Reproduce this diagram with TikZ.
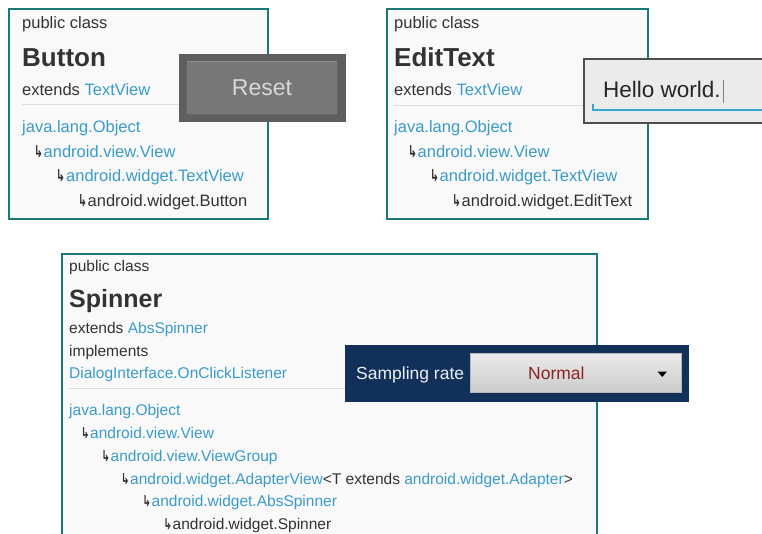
\documentclass[tikz,border=0pt]{standalone}
\usepackage{graphicx}
\usepackage{fontspec}
\setmainfont{Liberation Sans}
\newfontfamily\arrowfont{DejaVu Sans}
\definecolor{frameteal}{HTML}{1A7876}
\definecolor{panelbg}{HTML}{F9F9F9}
\definecolor{ink}{HTML}{333333}
\definecolor{linkblue}{HTML}{3A9BCB}
\definecolor{rule}{HTML}{DCDCDC}
\definecolor{resetdark}{HTML}{5F5F5F}
\definecolor{resetbtn}{HTML}{777777}
\definecolor{resettext}{HTML}{D8D8D8}
\definecolor{editbg}{HTML}{EBEBEB}
\definecolor{editframe}{HTML}{4E4E4E}
\definecolor{holoblue}{HTML}{35A9D0}
\definecolor{navy}{HTML}{11315A}
\definecolor{spinred}{HTML}{8B2323}
% hook arrow in front of each inherited class: box width, glyph width, glyph height
\newcommand\hk[3]{\makebox[#1][l]{\hspace{-1pt}\textcolor{ink}{\resizebox{#2}{#3}{\arrowfont\bfseries ↳}}}}
\newcommand\lnk[1]{\textcolor{linkblue}{#1}}
\begin{document}
\begin{tikzpicture}[x=1pt,y=-1pt,
  panel/.style={draw=frameteal, line width=2pt, fill=panelbg, anchor=north west, inner sep=0pt},
  txt/.style={anchor=base west, inner sep=0pt, text=ink, font=\fontsize{16.5}{18}\selectfont},
  stxt/.style={txt, font=\fontsize{15.5}{17}\selectfont},
  title/.style={txt, font=\bfseries\fontsize{26}{28}\selectfont},
  stitle/.style={txt, font=\bfseries\fontsize{25}{27}\selectfont},
  sep/.style={draw=rule, line width=1pt}]
\clip (0,0) rectangle (762,533);
\fill[white] (0,0) rectangle (762,533);

% ---------- Button ----------
\node[panel, minimum width=258.4pt, minimum height=210.3pt] (bpanel) at (8.3,7.7) {};
\node[txt] (bpub) at (22,28.5) {public class};
\node[title] (bname) at (22,66.5) {Button};
\node[txt] (bext) at (22,95) {extends \lnk{TextView}};
\draw[sep] (22,104.5) -- (253,104.5);
\node[txt, text=linkblue] (bobj) at (22,132.5) {java.lang.Object};
\node[txt] (bview) at (35,157) {\hk{8.5pt}{9pt}{12pt}\lnk{android.view.View}};
\node[txt] (btv) at (57,181.5) {\hk{9pt}{9pt}{12pt}\lnk{android.widget.TextView}};
\node[txt] (bbtn) at (79,206.5) {\hk{8.5pt}{9pt}{12pt}android.widget.Button};

% Reset button sample
\node[fill=resetdark, anchor=north west, minimum width=167pt, minimum height=68pt, inner sep=0pt] (rpanel) at (179,54) {};
\node[fill=resetbtn, draw=resetdark!85!black, line width=0.6pt, rounded corners=1.5pt,
      minimum width=152pt, minimum height=54pt, inner sep=0pt,
      text=resettext, font=\fontsize{23}{25}\selectfont] (rbtn) at (262,88) {Reset};
\draw[resetbtn!80!white, line width=0.8pt] ([xshift=1pt,yshift=-0.6pt]rbtn.north west) -- ([xshift=-1pt,yshift=-0.6pt]rbtn.north east);

% ---------- EditText ----------
\node[panel, minimum width=261pt, minimum height=210.3pt] (epanel) at (386,7.7) {};
\node[txt] (epub) at (394,28.5) {public class};
\node[title] (ename) at (394,66.5) {EditText};
\node[txt] (eext) at (394,95) {extends \lnk{TextView}};
\draw[sep] (394,105) -- (633,105);
\node[txt, text=linkblue] (eobj) at (394,132.5) {java.lang.Object};
\node[txt] (eview) at (409,157.5) {\hk{8.5pt}{9pt}{12pt}\lnk{android.view.View}};
\node[txt] (etv) at (431,181.5) {\hk{8.5pt}{9pt}{12pt}\lnk{android.widget.TextView}};
\node[txt] (eet) at (453,206.5) {\hk{8.5pt}{9pt}{12pt}android.widget.EditText};

% text field sample
\node[fill=editbg, draw=editframe, line width=1.5pt, anchor=north west,
      minimum width=200pt, minimum height=64pt, inner sep=0pt] (efield) at (583,58) {};
\node[anchor=base west, inner sep=0pt, text=black!85, font=\fontsize{22.5}{24}\selectfont] (ehello) at (603,97.3) {Hello world.};
\draw[gray, line width=1pt] (723.5,80) -- (723.5,103);
\draw[holoblue, line width=2pt] (593,104) -- (593,110) -- (770,110);

% ---------- Spinner ----------
\node[panel, minimum width=535pt, minimum height=300pt] (spanel) at (61,253) {};
\node[stxt] (spub) at (69,271.5) {public class};
\node[stitle] (sname) at (69,307) {Spinner};
\node[stxt] (sext) at (69,333.3) {extends \lnk{AbsSpinner}};
\node[stxt] (simpl) at (69,356) {implements};
\node[stxt, text=linkblue] (sdlg) at (69,378.3) {DialogInterface.OnClickListener};
\draw[sep] (69,388) -- (583,388);
\node[stxt, text=linkblue] (sobj) at (69,415) {java.lang.Object};
\node[stxt] (sview) at (82,438.3) {\hk{8pt}{8.5pt}{11pt}\lnk{android.view.View}};
\node[stxt] (sgrp) at (102.5,461) {\hk{8pt}{8.5pt}{11pt}\lnk{android.view.ViewGroup}};
\node[stxt] (sadv) at (122,484.3) {\hk{8pt}{8.5pt}{11pt}\lnk{android.widget.AdapterView}<T extends \lnk{android.widget.Adapter}>};
\node[stxt] (sabs) at (143.5,506.7) {\hk{8pt}{8.5pt}{11pt}\lnk{android.widget.AbsSpinner}};
\node[stxt] (sspin) at (164.5,529.3) {\hk{8pt}{8.5pt}{11pt}android.widget.Spinner};

% spinner sample
\node[fill=navy, anchor=north west, minimum width=344pt, minimum height=57pt, inner sep=0pt] (spbar) at (345,345) {};
\node[anchor=base west, inner sep=0pt, text=white!92!navy, font=\fontsize{17.5}{19}\selectfont] (srate) at (356,379.5) {Sampling rate};
\shade[top color=black!8, bottom color=black!20, draw=black!28, line width=0.5pt] (470,353) rectangle (681,392);
\node[anchor=base west, inner sep=0pt, text=spinred, font=\fontsize{17.5}{19}\selectfont] (snormal) at (528,379.5) {Normal};
\fill[black] (657.5,371.5) -- (667,371.5) -- (662.25,377) -- cycle;
\end{tikzpicture}
\end{document}
